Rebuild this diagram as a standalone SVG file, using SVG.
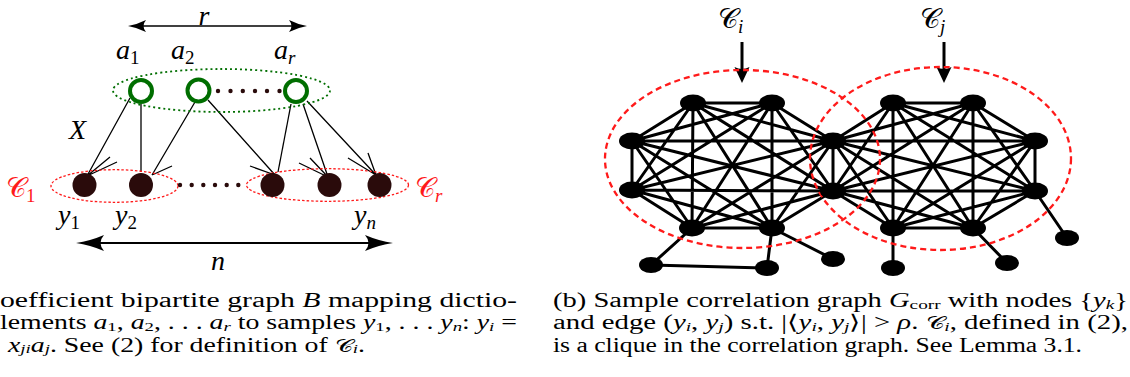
<svg xmlns="http://www.w3.org/2000/svg" width="1130" height="377" viewBox="0 0 1130 377">
<style>
.m{font-family:"Liberation Serif",serif;font-style:italic;font-size:28px;fill:#000}
.sub{font-size:19px;font-style:normal}
.subi{font-size:19px}
.cal{font-family:"DejaVu Serif","Liberation Serif",serif;font-style:normal;font-weight:normal}
.red{fill:#ff1a1a}
.cap{font-family:"Liberation Serif",serif;font-size:20px;fill:#000}
.it{font-style:italic}
.cs{font-size:13.5px}
.cc{font-size:18px}
.thin{fill:none;stroke:#000;stroke-width:1.3}
.ga{fill:#fff;stroke:#006e00;stroke-width:4}
.yn{fill:#2a0b0b}
.dot{fill:#2a0b0b}
.gell{fill:none;stroke:#006e00;stroke-width:1.8;stroke-dasharray:2 3}
.rell{fill:none;stroke:#ff1a1a;stroke-width:1.3;stroke-dasharray:2.5 2}
.rdash{fill:none;stroke:#ff1a1a;stroke-width:2.3;stroke-dasharray:6 4}
.e{stroke:#000;stroke-width:3;fill:none}
.gn{fill:#000}
.dim{stroke:#000;fill:none}
</style>
<defs>
<marker id="hs" markerUnits="userSpaceOnUse" viewBox="-14 -8 22 16" refX="0" refY="0" markerWidth="22" markerHeight="16" orient="auto">
<path d="M6,0 Q-3,-1.5 -12,-6 Q-7,0 -12,6 Q-3,1.5 6,0Z" fill="#000"/>
</marker>
<marker id="hl" markerUnits="userSpaceOnUse" viewBox="-22 -10 32 20" refX="0" refY="0" markerWidth="32" markerHeight="20" orient="auto">
<path d="M8,0 Q-6,-2 -20,-8 Q-13,0 -20,8 Q-6,2 8,0Z" fill="#000"/>
</marker>
<marker id="hv" markerUnits="userSpaceOnUse" viewBox="-6 -9 22 18" refX="0" refY="0" markerWidth="22" markerHeight="18" orient="auto">
<path d="M13,0 L-3,-7.5 Q1,0 -3,7.5Z" fill="#000"/>
</marker>
</defs>

<!-- ===== Left: bipartite graph ===== -->
<g id="connectors-left">
<line class="dim" stroke-width="1.5" x1="217" y1="26" x2="301" y2="26" marker-end="url(#hs)"/>
<line class="dim" stroke-width="1.5" x1="217" y1="26" x2="134" y2="26" marker-end="url(#hs)"/>
<line class="dim" stroke-width="2" x1="234" y1="243" x2="385" y2="243" marker-end="url(#hl)"/>
<line class="dim" stroke-width="2" x1="234" y1="243" x2="84" y2="243" marker-end="url(#hl)"/>
<path class="thin" d="M130,98 L87,176 M87,176 L110,157 M87,176 L117,162"/>
<path class="thin" d="M141,104 L141,172"/>
<path class="thin" d="M195,102 L152,175 M152,175 L172,166"/>
<path class="thin" d="M208,100 L275,175 M275,175 L250,166"/>
<path class="thin" d="M291,104 L278,172"/>
<path class="thin" d="M303,104 L328,177 M328,177 L310,158 M328,177 L299,163"/>
<path class="thin" d="M307,101 L376,175 M376,175 L368,153 M376,175 L348,158"/>
</g>

<ellipse class="gell" cx="221.5" cy="90.5" rx="108.5" ry="21.5"/>
<ellipse class="rell" cx="114.5" cy="186" rx="63.5" ry="16.3"/>
<ellipse class="rell" cx="327.5" cy="185" rx="81" ry="16.3"/>

<g id="dots-top">
<circle class="dot" cx="218" cy="91" r="2.2"/><circle class="dot" cx="230.5" cy="91" r="2.2"/><circle class="dot" cx="242.8" cy="91" r="2.2"/><circle class="dot" cx="255" cy="91" r="2.2"/><circle class="dot" cx="267" cy="91" r="2.2"/><circle class="dot" cx="279.5" cy="91" r="2.2"/>
</g>
<g id="dots-bottom">
<circle class="dot" cx="180" cy="185" r="2.2"/><circle class="dot" cx="191.7" cy="185" r="2.2"/><circle class="dot" cx="203.3" cy="185" r="2.2"/><circle class="dot" cx="215" cy="185" r="2.2"/><circle class="dot" cx="226.7" cy="185" r="2.2"/><circle class="dot" cx="238.3" cy="185" r="2.2"/>
</g>

<g id="a1"><circle class="ga" cx="141" cy="91" r="11"/></g>
<g id="a2"><circle class="ga" cx="198.5" cy="90.5" r="11"/></g>
<g id="ar"><circle class="ga" cx="296" cy="91" r="11"/></g>
<g id="y1"><circle class="yn" cx="84.5" cy="185" r="12"/></g>
<g id="y2"><circle class="yn" cx="141" cy="185" r="12"/></g>
<g id="y3"><circle class="yn" cx="272.5" cy="185" r="12"/></g>
<g id="y4"><circle class="yn" cx="329.5" cy="185" r="12"/></g>
<g id="y5"><circle class="yn" cx="379.5" cy="185" r="12"/></g>

<g id="labels-left">
<text class="m" x="204" y="24.5" text-anchor="middle" font-size="24">r</text>
<text class="m" x="116" y="59">a<tspan class="sub" dy="5">1</tspan></text>
<text class="m" x="171" y="59">a<tspan class="sub" dy="5">2</tspan></text>
<text class="m" x="274" y="59">a<tspan class="subi" dy="5">r</tspan></text>
<text class="m" x="69" y="139">X</text>
<text class="m" x="58" y="224">y<tspan class="sub" dy="5">1</tspan></text>
<text class="m" x="115" y="224">y<tspan class="sub" dy="5">2</tspan></text>
<text class="m" x="354" y="224">y<tspan class="subi" dy="5">n</tspan></text>
<text class="m" x="218" y="270" text-anchor="middle">n</text>
<text class="m red" x="6" y="197"><tspan class="cal">𝒞</tspan><tspan class="sub" dy="5">1</tspan></text>
<text class="m red" x="415" y="197"><tspan class="cal">𝒞</tspan><tspan class="subi" dy="5">r</tspan></text>
</g>

<!-- ===== Right: correlation graph ===== -->
<g id="connectors-right">
<!-- left clique K8 -->
<path class="e" d="M693,103L772,103 M693,103L632,141 M693,103L632,190 M693,103L692,228 M693,103L772,228 M693,103L833,141 M693,103L833,191
M772,103L632,141 M772,103L632,190 M772,103L692,228 M772,103L772,228 M772,103L833,141 M772,103L833,191
M632,141L632,190 M632,141L692,228 M632,141L772,228 M632,141L833,141 M632,141L833,191
M632,190L692,228 M632,190L772,228 M632,190L833,141 M632,190L833,191
M692,228L772,228 M692,228L833,141 M692,228L833,191
M772,228L833,141 M772,228L833,191
M833,141L833,191"/>
<!-- right clique K8 -->
<path class="e" d="M893,103L973,103 M893,103L1035,141 M893,103L1035,191 M893,103L893,228 M893,103L973,228 M893,103L833,141 M893,103L833,191
M973,103L1035,141 M973,103L1035,191 M973,103L893,228 M973,103L973,228 M973,103L833,141 M973,103L833,191
M1035,141L1035,191 M1035,141L893,228 M1035,141L973,228 M1035,141L833,141 M1035,141L833,191
M1035,191L893,228 M1035,191L973,228 M1035,191L833,141 M1035,191L833,191
M893,228L973,228 M893,228L833,141 M893,228L833,191
M973,228L833,141 M973,228L833,191"/>
<!-- pendants -->
<path class="e" d="M692,228L651,265 M651,265L767,268 M772,228L767,268 M772,228L833,259 M893,228L893,268 M973,228L1007,263 M1035,191L1067,238"/>
<!-- cluster arrows -->
<line x1="742" y1="42" x2="742" y2="70" stroke="#000" stroke-width="3" marker-end="url(#hv)"/>
<line x1="944" y1="42" x2="944" y2="70" stroke="#000" stroke-width="3" marker-end="url(#hv)"/>
</g>

<ellipse class="rdash" cx="742.5" cy="159" rx="137.5" ry="89"/>
<ellipse class="rdash" cx="940.5" cy="158.5" rx="130.5" ry="91.5"/>

<g id="n-l1"><ellipse class="gn" cx="693" cy="103" rx="13" ry="8.5"/></g>
<g id="n-l2"><ellipse class="gn" cx="772" cy="103" rx="13" ry="8.5"/></g>
<g id="n-l3"><ellipse class="gn" cx="632" cy="141" rx="13" ry="8.5"/></g>
<g id="n-l4"><ellipse class="gn" cx="632" cy="190" rx="13" ry="8.5"/></g>
<g id="n-l5"><ellipse class="gn" cx="692" cy="228" rx="13" ry="8.5"/></g>
<g id="n-l6"><ellipse class="gn" cx="772" cy="228" rx="13" ry="8.5"/></g>
<g id="n-s1"><ellipse class="gn" cx="833" cy="141" rx="13" ry="8.5"/></g>
<g id="n-s2"><ellipse class="gn" cx="833" cy="191" rx="13" ry="8.5"/></g>
<g id="n-r1"><ellipse class="gn" cx="893" cy="103" rx="13" ry="8.5"/></g>
<g id="n-r2"><ellipse class="gn" cx="973" cy="103" rx="13" ry="8.5"/></g>
<g id="n-r3"><ellipse class="gn" cx="1035" cy="141" rx="13" ry="8.5"/></g>
<g id="n-r4"><ellipse class="gn" cx="1035" cy="191" rx="13" ry="8.5"/></g>
<g id="n-r5"><ellipse class="gn" cx="893" cy="228" rx="13" ry="8.5"/></g>
<g id="n-r6"><ellipse class="gn" cx="973" cy="228" rx="13" ry="8.5"/></g>
<g id="n-p1"><ellipse class="gn" cx="651" cy="265" rx="12" ry="8"/></g>
<g id="n-p2"><ellipse class="gn" cx="767" cy="268" rx="12" ry="8"/></g>
<g id="n-p3"><ellipse class="gn" cx="833" cy="259" rx="12" ry="8"/></g>
<g id="n-p4"><ellipse class="gn" cx="893" cy="268" rx="12" ry="8"/></g>
<g id="n-p5"><ellipse class="gn" cx="1007" cy="263" rx="12" ry="8"/></g>
<g id="n-p6"><ellipse class="gn" cx="1067" cy="238" rx="12" ry="8"/></g>

<g id="labels-right">
<text class="m" x="718" y="28"><tspan class="cal">𝒞</tspan><tspan class="subi" dy="5">i</tspan></text>
<text class="m" x="920" y="28"><tspan class="cal">𝒞</tspan><tspan class="subi" dy="5">j</tspan></text>
</g>

<!-- ===== Captions ===== -->
<g id="caption-a">
<text class="cap" x="0" y="307" textLength="517" lengthAdjust="spacingAndGlyphs">oefficient bipartite graph <tspan class="it">B</tspan> mapping dictio-</text>
<text class="cap" x="0" y="329.3" textLength="517" lengthAdjust="spacingAndGlyphs">lements <tspan class="it">a</tspan><tspan class="cs" dy="1.5">1</tspan><tspan dy="-1.5">, </tspan><tspan class="it">a</tspan><tspan class="cs" dy="1.5">2</tspan><tspan dy="-1.5">, . . . </tspan><tspan class="it">a</tspan><tspan class="it cs" dy="1.5">r</tspan><tspan dy="-1.5"> to samples </tspan><tspan class="it">y</tspan><tspan class="cs" dy="1.5">1</tspan><tspan dy="-1.5">, . . . </tspan><tspan class="it">y</tspan><tspan class="it cs" dy="1.5">n</tspan><tspan dy="-1.5">: </tspan><tspan class="it">y</tspan><tspan class="it cs" dy="1.5">i</tspan><tspan dy="-1.5"> =</tspan></text>
<text class="cap" x="8" y="351.6" textLength="357" lengthAdjust="spacingAndGlyphs"><tspan class="it">x</tspan><tspan class="it cs" dy="1.5">ji</tspan><tspan class="it" dy="-1.5">a</tspan><tspan class="it cs" dy="1.5">j</tspan><tspan dy="-1.5">. See (2) for definition of </tspan><tspan class="cal cc">𝒞</tspan><tspan class="it cs" dy="1.5">i</tspan><tspan dy="-1.5">.</tspan></text>
</g>
<g id="caption-b">
<text class="cap" x="553" y="307" textLength="575" lengthAdjust="spacingAndGlyphs">(b) Sample correlation graph <tspan class="it">G</tspan><tspan class="cs" dy="1.5">corr</tspan><tspan dy="-1.5"> with nodes {</tspan><tspan class="it">y</tspan><tspan class="it cs" dy="1.5">k</tspan><tspan dy="-1.5">}</tspan></text>
<text class="cap" x="553" y="329.3" textLength="575" lengthAdjust="spacingAndGlyphs">and edge (<tspan class="it">y</tspan><tspan class="it cs" dy="1.5">i</tspan><tspan dy="-1.5">, </tspan><tspan class="it">y</tspan><tspan class="it cs" dy="1.5">j</tspan><tspan dy="-1.5">) s.t. |⟨</tspan><tspan class="it">y</tspan><tspan class="it cs" dy="1.5">i</tspan><tspan dy="-1.5">, </tspan><tspan class="it">y</tspan><tspan class="it cs" dy="1.5">j</tspan><tspan dy="-1.5">⟩| &gt; </tspan><tspan class="it">ρ</tspan><tspan>. </tspan><tspan class="cal cc">𝒞</tspan><tspan class="it cs" dy="1.5">i</tspan><tspan dy="-1.5">, defined in (2),</tspan></text>
<text class="cap" x="553" y="351.6" textLength="529" lengthAdjust="spacingAndGlyphs">is a clique in the correlation graph. See Lemma 3.1.</text>
</g>
</svg>
